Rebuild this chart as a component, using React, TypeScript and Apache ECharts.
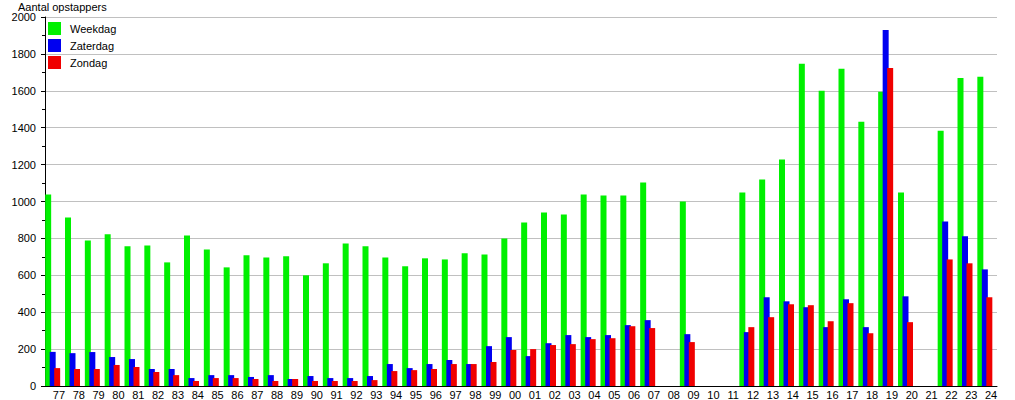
import React, { useEffect, useRef } from "react";
import * as echarts from "echarts";

const years = [
  "77","78","79","80","81","82","83","84","85","86","87","88","89","90","91","92","93","94","95","96","97","98","99",
  "00","01","02","03","04","05","06","07","08","09","10","11","12","13","14","15","16","17","18","19","20","21","22","23","24",
];

const weekdag = [
  1038, 913, 789, 822, 757, 762, 670, 816, 740, 643, 708, 697, 703, 600, 665, 773, 757, 697, 649, 692, 686, 719, 713,
  800, 886, 941, 930, 1038, 1032, 1032, 1103, null, 1000, null, null, 1049, 1119, 1227, 1746, 1600, 1719, 1432, 1595, 1049, null, 1384, 1670, 1676,
];

const zaterdag = [
  185, 178, 184, 157, 146, 92, 92, 43, 59, 59, 49, 59, 38, 54, 43, 43, 54, 119, 97, 119, 141, 119, 216,
  265, 162, 232, 276, 265, 276, 330, 357, null, 281, null, null, 292, 481, 459, 427, 319, 470, 319, 1930, 486, null, 892, 811, 632,
];

const zondag = [
  97, 92, 92, 114, 103, 76, 59, 27, 43, 43, 38, 27, 38, 27, 27, 27, 32, 81, 86, 92, 119, 119, 130,
  195, 200, 222, 227, 254, 259, 324, 314, null, 238, null, null, 319, 373, 443, 438, 351, 449, 286, 1724, 346, null, 686, 665, 481,
];

const yTicks = { min: 0, max: 2000, interval: 200 };

const yAxisTitle = "Aantal opstappers";

const FONT = "'Liberation Sans', Arial, sans-serif";

export default function App() {
  const ref = useRef<HTMLDivElement>(null);

  useEffect(() => {
    if (!ref.current) return;
    const chart = echarts.init(ref.current, undefined, { renderer: "svg" });
    const barCommon = {
      type: "bar" as const,
      barWidth: 6,
      barGap: "-25%",
    };
    chart.setOption({
      animation: false,
      textStyle: { fontFamily: FONT },
      grid: { left: 45, right: 18, top: 17, bottom: 13, containLabel: false },
      graphic: [
        {
          type: "text",
          x: 18,
          y: 7,
          style: {
            text: yAxisTitle,
            fontSize: 11,
            fontFamily: FONT,
            fill: "#000",
            verticalAlign: "middle",
            align: "left",
          },
        },
      ],
      legend: {
        data: ["Weekdag", "Zaterdag", "Zondag"],
        orient: "vertical",
        left: 48,
        top: 22,
        itemWidth: 13,
        itemHeight: 13,
        itemGap: 4,
        icon: "rect",
        padding: 0,
        textStyle: { fontSize: 11, color: "#000", fontFamily: FONT, padding: [0, 0, 0, 4] },
      },
      xAxis: {
        type: "category",
        data: years,
        boundaryGap: true,
        axisLine: { show: true, lineStyle: { color: "#000", width: 1 } },
        axisTick: { show: false },
        axisLabel: {
          color: "#000",
          fontSize: 11,
          fontFamily: FONT,
          margin: 3,
          interval: 0,
          padding: [0, 0, 0, 8],
        },
        splitLine: { show: false },
      },
      yAxis: {
        type: "value",
        min: yTicks.min,
        max: yTicks.max,
        interval: yTicks.interval,
        axisLine: { show: true, lineStyle: { color: "#000", width: 1 } },
        axisTick: { show: true, length: 4, lineStyle: { color: "#000" } },
        minorTick: { show: true, splitNumber: 2, length: 3, lineStyle: { color: "#000" } },
        axisLabel: {
          color: "#000",
          fontSize: 11,
          fontFamily: FONT,
          margin: 9,
          formatter: (v: number) => String(v),
        },
        splitLine: { show: true, lineStyle: { color: "#c0c0c0", width: 1 } },
      },
      series: [
        { ...barCommon, name: "Weekdag", data: weekdag, itemStyle: { color: "#00f000" } },
        { ...barCommon, name: "Zaterdag", data: zaterdag, itemStyle: { color: "#0000f0" } },
        { ...barCommon, name: "Zondag", data: zondag, itemStyle: { color: "#f00000" } },
        { ...barCommon, name: "_spacer", data: [], itemStyle: { color: "transparent" } },
      ],
    });
    return () => chart.dispose();
  }, []);

  return (
    <div
      ref={ref}
      style={{ position: "absolute", left: 0, top: 0, width: 1015, height: 400 }}
    />
  );
}
